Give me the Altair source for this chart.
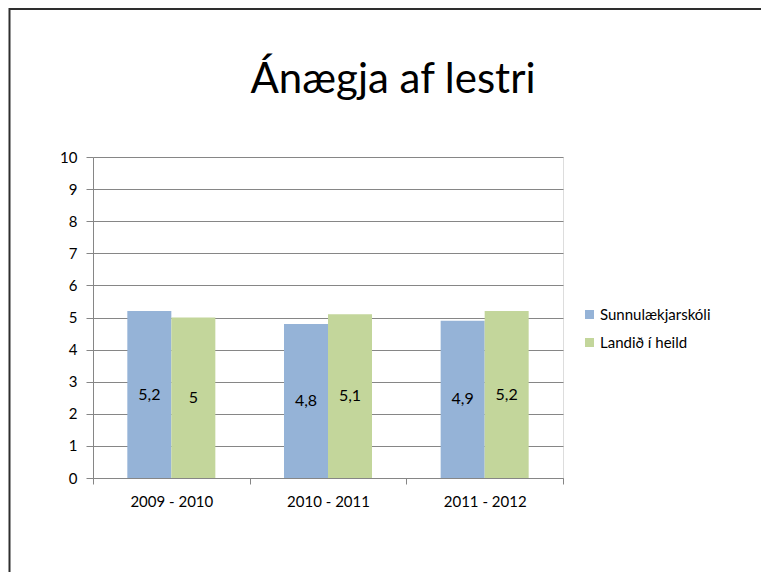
import altair as alt
import pandas as pd

periods = ["2009 - 2010", "2010 - 2011", "2011 - 2012"]
series = ["Sunnulækjarskóli", "Landið í heild"]
school_values = [5.2, 4.8, 4.9]
national_values = [5.0, 5.1, 5.2]
y_ticks = list(range(0, 11))
colors = ["#95B3D7", "#C3D69B"]

rows = []
for i, p in enumerate(periods):
    for s, vals in zip(series, [school_values, national_values]):
        v = vals[i]
        rows.append({"period": p, "series": s, "value": v,
                     "label": f"{v:g}".replace(".", ",")})
df = pd.DataFrame(rows)

W, H = 470, 321
FONT = "Lato"
GRID = "#868686"

x = alt.X("period:N", sort=periods, title=None,
          scale=alt.Scale(paddingInner=0, paddingOuter=0),
          axis=alt.Axis(labelAngle=0, tickBand="extent", domainColor=GRID,
                        tickColor=GRID, tickSize=6, labelPadding=10,
                        labelFont=FONT, labelFontSize=15, labelColor="#000",
                        grid=False))
xoff = alt.XOffset("series:N", sort=series,
                   scale=alt.Scale(paddingInner=0, paddingOuter=0.78))
y_scale = alt.Scale(domain=[0, 10], nice=False)
y_axis = alt.Axis(values=y_ticks, grid=True, gridColor=GRID,
                  domainColor=GRID, tickColor=GRID, tickSize=7,
                  labelPadding=9, labelFont=FONT, labelFontSize=15,
                  labelColor="#000", labelOverlap=False)
y = alt.Y("value:Q", title=None, scale=y_scale, axis=y_axis)
color = alt.Color("series:N", sort=series,
                  scale=alt.Scale(domain=series, range=colors),
                  legend=alt.Legend(orient="none", legendX=489, legendY=150,
                                    title=None, symbolType="square",
                                    symbolSize=81, symbolStrokeWidth=0,
                                    labelFont=FONT, labelFontSize=15,
                                    labelColor="#000", rowPadding=12,
                                    labelOffset=3))

base = alt.Chart(df)
bars = base.mark_bar().encode(x=x, xOffset=xoff, y=y, color=color)
labels = base.transform_calculate(mid="datum.value / 2").mark_text(
    font=FONT, fontSize=16, color="#000", baseline="middle"
).encode(x=x, xOffset=xoff,
         y=alt.Y("mid:Q", title=None, scale=y_scale, axis=y_axis),
         text="label:N")

frame = pd.DataFrame({"k": [0]})
top_border = alt.Chart(frame).mark_rule(color="#2e2e2e", strokeWidth=2).encode(
    x=alt.value(-84), x2=alt.value(670), y=alt.value(-148))
left_border = alt.Chart(frame).mark_rule(color="#2e2e2e", strokeWidth=2).encode(
    x=alt.value(-83.5), y=alt.value(-149), y2=alt.value(415))

chart = alt.layer(bars, labels, top_border, left_border).properties(
    width=W, height=H,
    title=alt.TitleParams("Ánægja af lestri", font=FONT, fontSize=42,
                          fontWeight="normal", color="#000", anchor="middle",
                          frame="group", dx=65, offset=-95),
    autosize=alt.AutoSizeParams(type="none"),
    padding={"left": 85, "top": 149, "right": 198, "bottom": 94},
).configure_view(stroke=None).configure(background="white")

chart.save("out.html", embed_options={"renderer": "svg", "actions": False})
